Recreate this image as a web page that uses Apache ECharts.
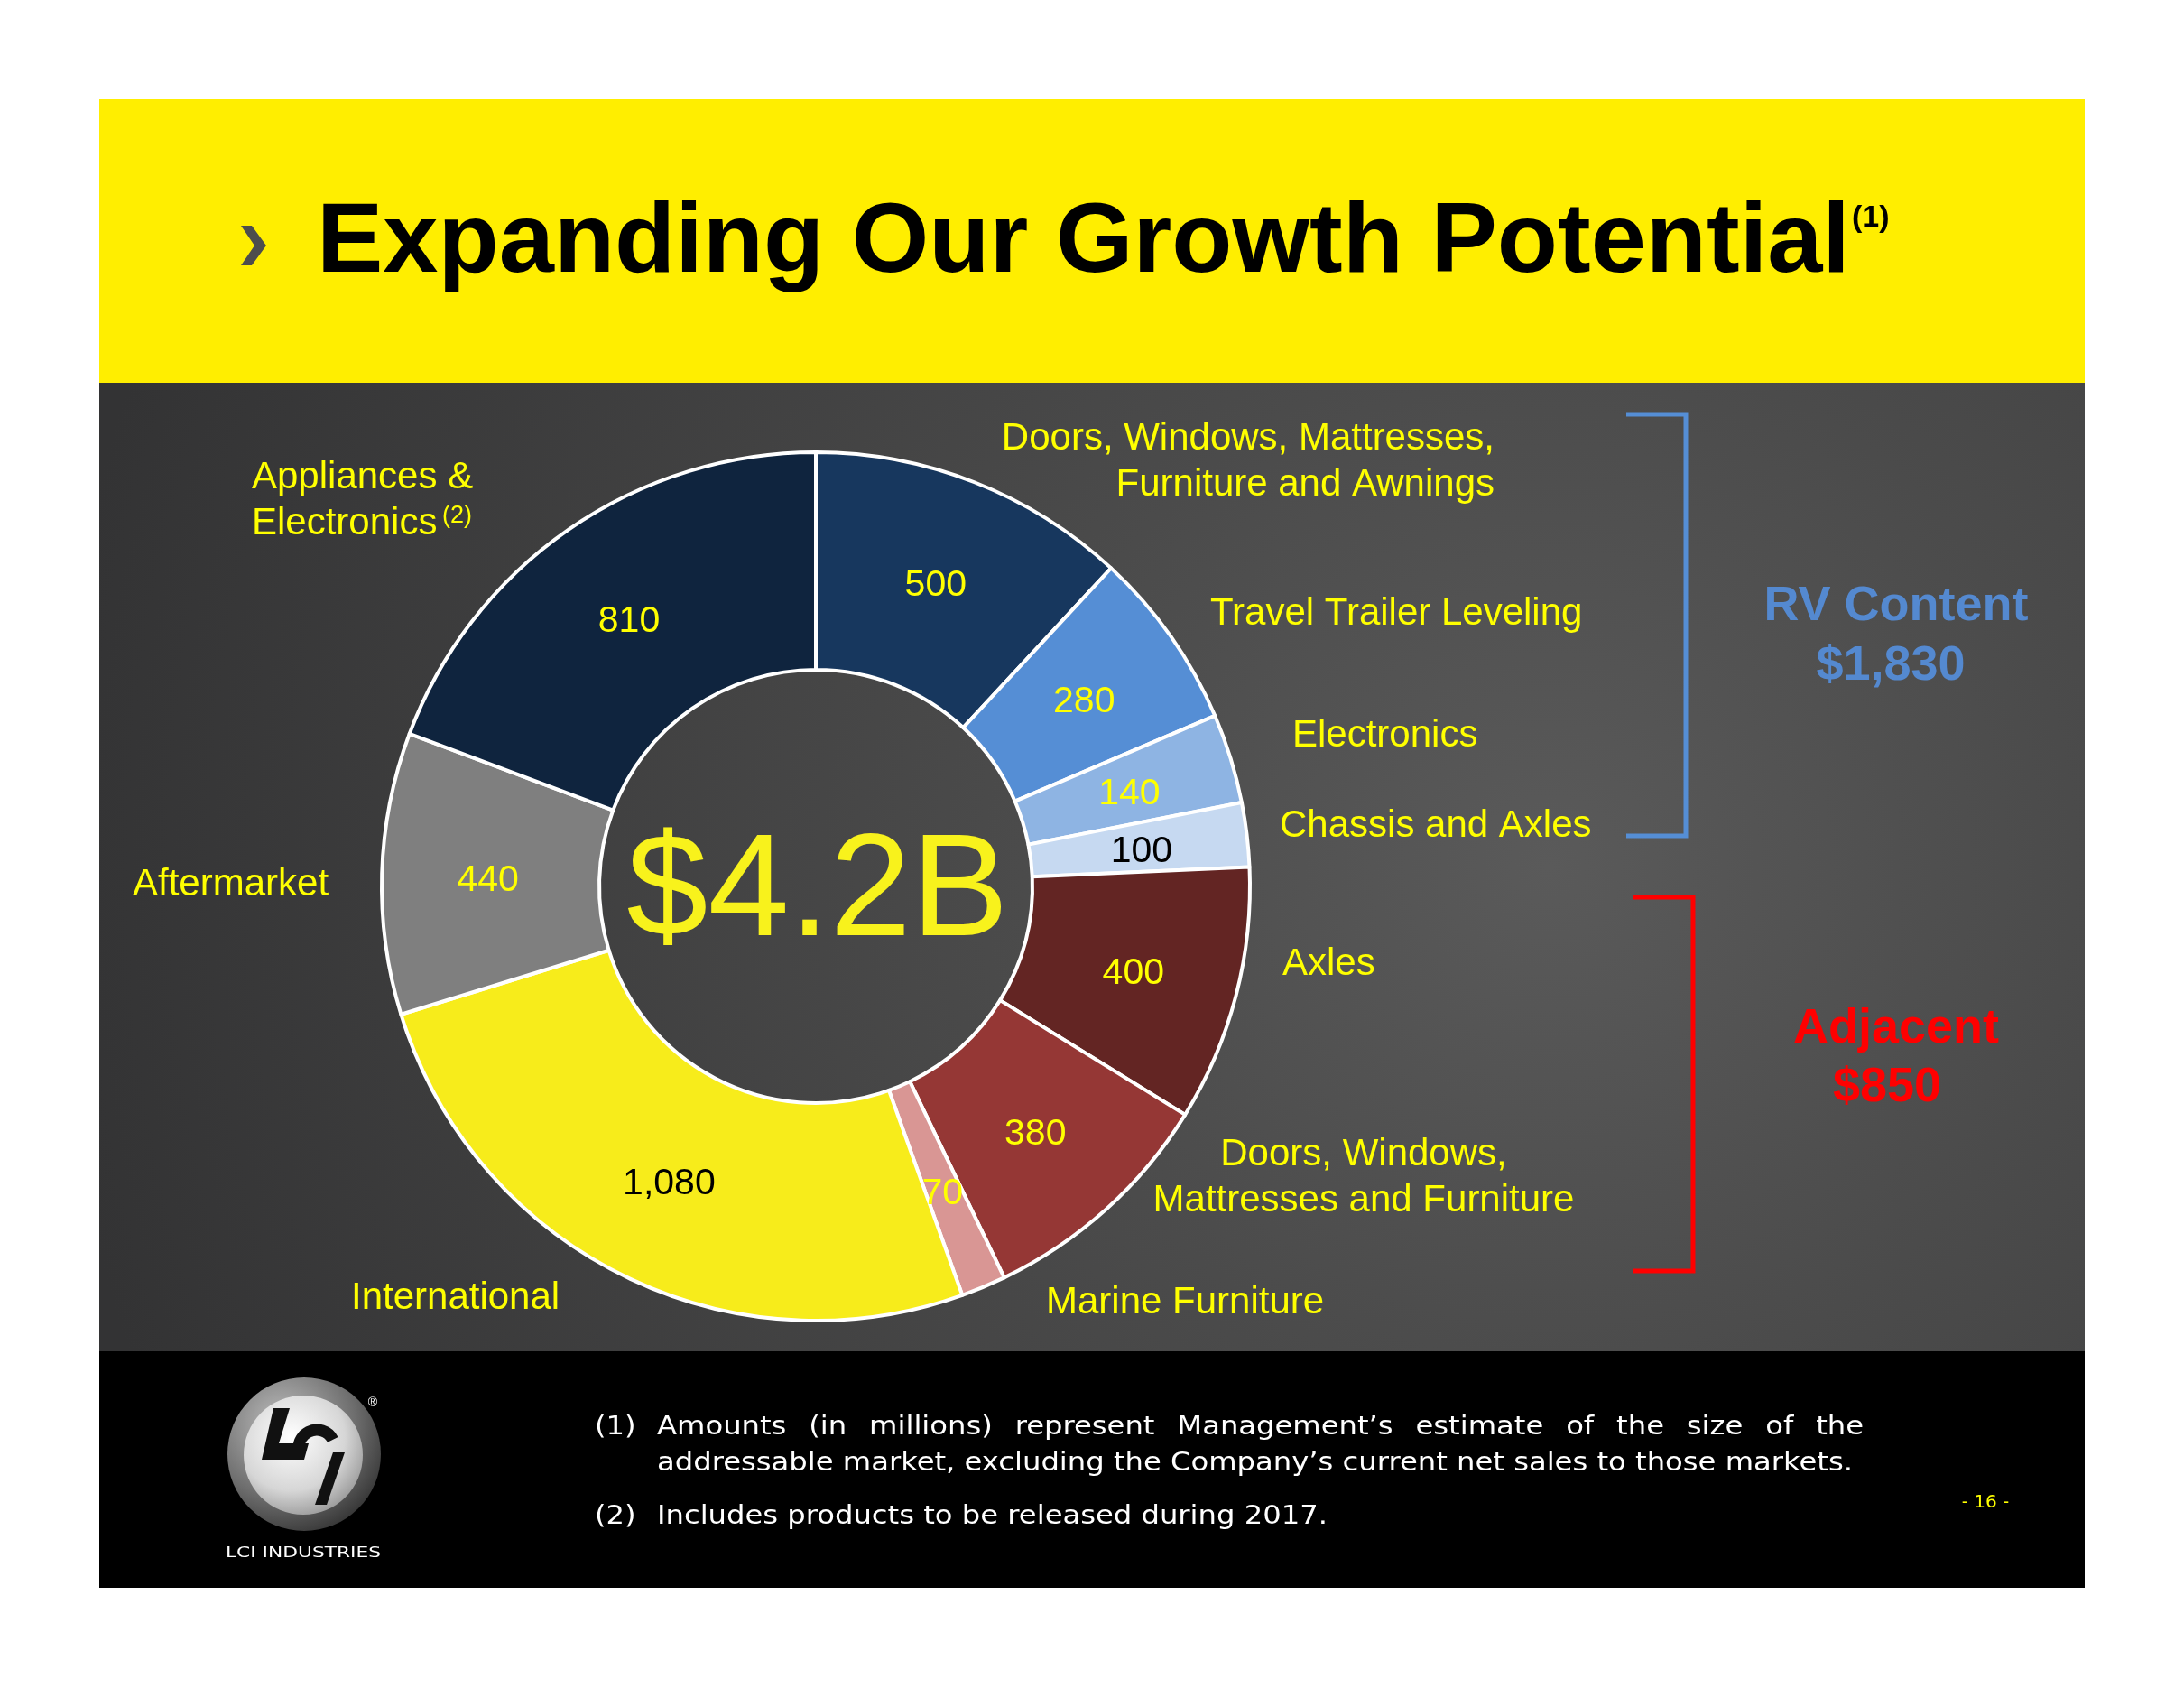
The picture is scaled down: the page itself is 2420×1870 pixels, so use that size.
<!DOCTYPE html>
<html><head><meta charset="utf-8">
<script src="https://cdn.jsdelivr.net/npm/echarts@6/dist/echarts.min.js"></script>
<style>html,body{margin:0;padding:0;background:#fff;}#c{width:2420px;height:1870px;}</style>
</head><body><div id="c"></div>
<script>
// ---------- data ----------
const categories = [
  'Doors, Windows, Mattresses,\nFurniture and Awnings',
  'Travel Trailer Leveling',
  'Electronics',
  'Chassis and Axles',
  'Axles',
  'Doors, Windows,\nMattresses and Furniture',
  'Marine Furniture',
  'International',
  'Aftermarket',
  'Appliances &\nElectronics'
];
const values = [500, 280, 140, 100, 400, 380, 70, 1080, 440, 810];
const totalLabel = '$4.2B';
const groupNames = ['RV Content', 'Adjacent'];
const groupTotals = ['$1,830', '$850'];
const titleText = 'Expanding Our Growth Potential';
const titleNote = '(1)';
const appliancesNote = '(2)';
const footnote1 = ["Amounts (in millions) represent Management\u2019s estimate of the size of the",
                   "addressable market, excluding the Company\u2019s current net sales to those markets."];
const footnote2 = "Includes products to be released during 2017.";
const pageNumber = '- 16 -';
const companyName = 'LCI INDUSTRIES';

// ---------- styles ----------
const sliceColors = ['#17375e', '#558ed5', '#8eb4e3', '#c6d9f1', '#632523', '#953735', '#d99694', '#f7ec1b', '#7f7f7f', '#0f243e'];
const valueLabelColors = ['#ffff00', '#ffff00', '#ffff00', '#000000', '#ffff00', '#ffff00', '#ffff00', '#000000', '#ffff00', '#ffff00'];
// label placement (x, visual centre y, align) for each category
const catLabelPos = [
  [1656, 509, 'right'], [1341, 677, 'left'], [1432, 812, 'left'], [1418, 912, 'left'],
  [1421, 1065, 'left'], [1511, 1302, 'center'], [1159, 1440, 'left'], [389, 1435, 'left'],
  [147, 977, 'left'], [279, 552, 'left']
];
const YEL = '#ffff00';
const ARIAL = 'Liberation Sans';
const GOTHIC = 'DejaVu Sans';

const fmt = v => v.toLocaleString('en-US');
const vy = (y, fs) => y + 0.074 * fs; // visual centre -> anchor

const ctx = document.createElement('canvas').getContext('2d');
function measure(t, size, fam) { ctx.font = size + 'px "' + fam + '"'; return ctx.measureText(t).width; }

const graphics = [];
function txt(x, y, text, o) {
  const fs = o.fontSize;
  const el = {type: 'text', z: o.z || 10, x: x, y: vy(y, fs), style: Object.assign({text: text, align: 'left', verticalAlign: 'middle'}, o)};
  delete el.style.z;
  if (o.scaleX) { el.scaleX = o.scaleX; delete el.style.scaleX; }
  graphics.push(el);
}

// page panels
graphics.push({type: 'rect', z: -20, shape: {x: 110, y: 110, width: 2200, height: 314}, style: {fill: '#ffee00'}});
graphics.push({type: 'rect', z: -20, shape: {x: 110, y: 424, width: 2200, height: 1073},
  style: {fill: {type: 'radial', x: 0.73, y: 0.5, r: 1.55, colorStops: [
    {offset: 0, color: '#5a5a5a'}, {offset: 0.35, color: '#4b4b4b'}, {offset: 1, color: '#333334'}]}}});
graphics.push({type: 'rect', z: -20, shape: {x: 110, y: 1497, width: 2200, height: 262}, style: {fill: '#000000'}});

// title
graphics.push({type: 'polygon', z: 10, shape: {points: [[267, 250], [279, 250], [295, 272], [279, 294], [267, 294], [282, 272]]}, style: {fill: '#4d4d4d'}});
txt(351, 263, titleText, {fontFamily: ARIAL, fontWeight: 'bold', fontSize: 110, fill: '#000'});
txt(2052, 239, titleNote, {fontFamily: ARIAL, fontWeight: 'bold', fontSize: 34, fill: '#000'});

// centre total
txt(906, 979, totalLabel, {fontFamily: ARIAL, fontSize: 162, fill: '#f8f21c', align: 'center'});

// category labels
categories.forEach((c, i) => {
  const p = catLabelPos[i];
  txt(p[0], p[1], c, {fontFamily: ARIAL, fontSize: 42, lineHeight: 51, fill: YEL, align: p[2]});
});
txt(490, 570, appliancesNote, {fontFamily: ARIAL, fontSize: 27, fill: YEL});

// brackets
graphics.push({type: 'polyline', z: 10, shape: {points: [[1802, 459], [1868, 459], [1868, 926], [1802, 926]]}, style: {stroke: '#558ed5', lineWidth: 5, fill: null}});
graphics.push({type: 'polyline', z: 10, shape: {points: [[1809, 994], [1876, 994], [1876, 1408], [1809, 1408]]}, style: {stroke: '#ff0000', lineWidth: 5, fill: null}});
txt(2101, 668, groupNames[0], {fontFamily: ARIAL, fontWeight: 'bold', fontSize: 54, fill: '#5489d0', align: 'center'});
txt(2095, 734, groupTotals[0], {fontFamily: ARIAL, fontWeight: 'bold', fontSize: 54, fill: '#5489d0', align: 'center'});
txt(2101, 1136, groupNames[1], {fontFamily: ARIAL, fontWeight: 'bold', fontSize: 54, fill: '#ff0000', align: 'center'});
txt(2091, 1201, groupTotals[1], {fontFamily: ARIAL, fontWeight: 'bold', fontSize: 54, fill: '#ff0000', align: 'center'});

// footnotes (fit to the reference line widths)
const FS = 29;
const x0 = 728, x1 = 2065, line2W = 1325;
const sx = line2W / measure(footnote1[1], FS, GOTHIC);
const fo = {fontFamily: GOTHIC, fontSize: FS, fill: '#ffffff', scaleX: sx};
txt(659, 1579, '(1)', Object.assign({}, fo));
const words = footnote1[0].split(' ');
const wsum = words.reduce((s, w) => s + measure(w, FS, GOTHIC) * sx, 0);
const gap = (x1 - x0 - wsum) / (words.length - 1);
let cx = x0;
words.forEach(w => {
  txt(cx, 1579, w, Object.assign({}, fo));
  cx += measure(w, FS, GOTHIC) * sx + gap;
});
txt(x0, 1619, footnote1[1], Object.assign({}, fo));
txt(659, 1678, '(2)', Object.assign({}, fo));
txt(x0, 1678, footnote2, Object.assign({}, fo));
txt(2200, 1663, pageNumber, {fontFamily: GOTHIC, fontSize: 20, fill: YEL, align: 'center'});

// logo
graphics.push({type: 'circle', z: 10, shape: {cx: 337, cy: 1611, r: 85},
  style: {fill: {type: 'radial', x: 0.35, y: 0.3, r: 0.8, colorStops: [{offset: 0, color: '#bdbdbd'}, {offset: 0.6, color: '#6e6e6e'}, {offset: 1, color: '#2e2e2e'}]}}});
graphics.push({type: 'circle', z: 11, shape: {cx: 336, cy: 1612, r: 66},
  style: {fill: {type: 'radial', x: 0.4, y: 0.35, r: 0.75, colorStops: [{offset: 0, color: '#ffffff'}, {offset: 0.6, color: '#d6d6d6'}, {offset: 1, color: '#8c8c8c'}]}}});
graphics.push({type: 'polygon', z: 12, shape: {points: [[303, 1560], [321, 1560], [309, 1599], [342, 1599], [337, 1617], [290, 1617]]}, style: {fill: '#111'}});
graphics.push({type: 'arc', z: 12, shape: {cx: 351, cy: 1604, r: 20, startAngle: -0.15 * Math.PI, endAngle: 1.0 * Math.PI, clockwise: false}, style: {stroke: '#111', lineWidth: 13, fill: null}});
graphics.push({type: 'polygon', z: 12, shape: {points: [[369, 1609], [382, 1609], [362, 1667], [349, 1667]]}, style: {fill: '#111'}});
txt(413, 1553, '\u00ae', {fontFamily: ARIAL, fontSize: 14, fill: '#ffffff', align: 'center', z: 12});
const nameSx = 172 / measure(companyName, 15, GOTHIC);
txt(250, 1720, companyName, {fontFamily: GOTHIC, fontSize: 15, fill: '#ffffff', scaleX: nameSx, z: 12});

const chart = echarts.init(document.getElementById('c'), null, {renderer: 'canvas'});
chart.setOption({
  animation: false,
  backgroundColor: '#ffffff',
  graphic: {elements: graphics},
  series: [{
    type: 'pie',
    z: 2,
    center: [904, 982],
    radius: [240, 481],
    startAngle: 90,
    clockwise: true,
    silent: true,
    avoidLabelOverlap: false,
    itemStyle: {borderColor: '#ffffff', borderWidth: 4},
    label: {show: true, position: 'inside', formatter: p => fmt(p.value), fontFamily: ARIAL, fontSize: 41, textBorderWidth: 0, offset: [0, 5]},
    labelLine: {show: false},
    emphasis: {disabled: true},
    data: values.map((v, i) => ({
      value: v, name: categories[i],
      itemStyle: {color: sliceColors[i]},
      label: {color: valueLabelColors[i]}
    }))
  }]
});
</script></body></html>
